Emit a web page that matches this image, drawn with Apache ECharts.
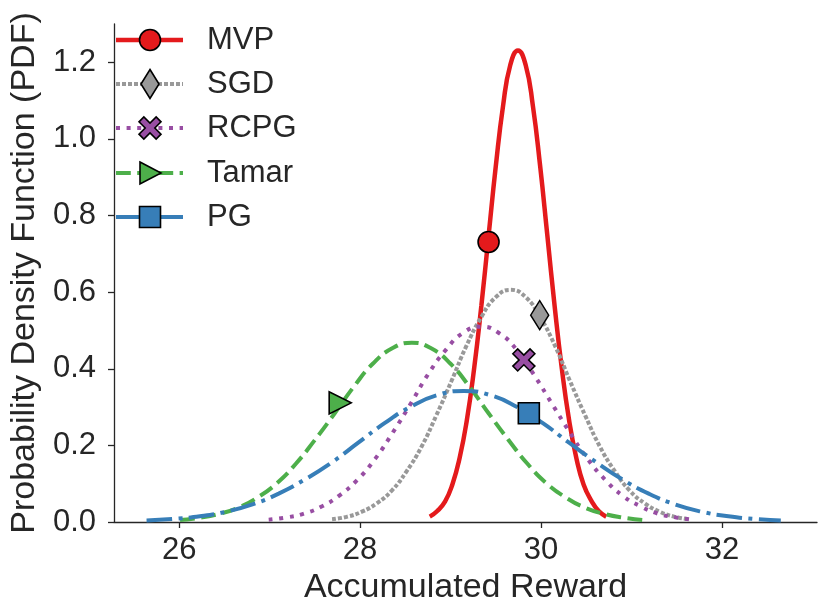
<!DOCTYPE html>
<html>
<head>
<meta charset="utf-8">
<title>PDF of accumulated reward</title>
<script src="https://cdn.jsdelivr.net/npm/echarts@6.0.0/dist/echarts.min.js"></script>
<style>
html, body { margin: 0; padding: 0; background: #fff; }
#main { width: 830px; height: 612px; }
</style>
</head>
<body>
<div id="main"></div>
<script>
// values
var mvpX = [28.77, 28.85, 28.94, 29.02, 29.10, 29.18, 29.26, 29.34, 29.42, 29.50, 29.58, 29.66, 29.745, 29.83, 29.91, 29.99, 30.07, 30.15, 30.23, 30.31, 30.39, 30.47, 30.56, 30.64, 30.72];
var mvpY = [0.014, 0.028, 0.054, 0.098, 0.167, 0.266, 0.400, 0.564, 0.747, 0.929, 1.086, 1.193, 1.231, 1.193, 1.086, 0.929, 0.747, 0.564, 0.400, 0.266, 0.167, 0.098, 0.054, 0.028, 0.014];

var sgdX = [27.69, 27.86, 28.02, 28.18, 28.35, 28.51, 28.68, 28.84, 29.01, 29.17, 29.34, 29.50, 29.665, 29.83, 29.99, 30.16, 30.32, 30.49, 30.65, 30.82, 30.98, 31.15, 31.31, 31.47, 31.64];
var sgdY = [0.007, 0.014, 0.027, 0.048, 0.082, 0.131, 0.197, 0.277, 0.368, 0.457, 0.535, 0.587, 0.606, 0.587, 0.535, 0.457, 0.368, 0.277, 0.197, 0.131, 0.082, 0.048, 0.027, 0.014, 0.007];

var rcpgX = [26.99, 27.19, 27.38, 27.58, 27.77, 27.97, 28.17, 28.36, 28.56, 28.75, 28.95, 29.14, 29.34, 29.53, 29.73, 29.92, 30.12, 30.32, 30.51, 30.71, 30.90, 31.10, 31.29, 31.49, 31.68];
var rcpgY = [0.006, 0.012, 0.022, 0.041, 0.069, 0.110, 0.166, 0.233, 0.309, 0.385, 0.450, 0.494, 0.510, 0.494, 0.450, 0.385, 0.309, 0.233, 0.166, 0.110, 0.069, 0.041, 0.022, 0.012, 0.006];

var tamarX = [26.01, 26.22, 26.44, 26.65, 26.86, 27.08, 27.29, 27.50, 27.72, 27.93, 28.14, 28.36, 28.57, 28.78, 29.00, 29.21, 29.42, 29.64, 29.85, 30.06, 30.28, 30.49, 30.70, 30.92, 31.13];
var tamarY = [0.005, 0.011, 0.021, 0.037, 0.063, 0.101, 0.152, 0.214, 0.284, 0.353, 0.413, 0.454, 0.468, 0.454, 0.413, 0.353, 0.284, 0.214, 0.152, 0.101, 0.063, 0.037, 0.021, 0.011, 0.005];

var pgX = [25.64, 25.93, 26.23, 26.52, 26.81, 27.10, 27.39, 27.69, 27.98, 28.27, 28.56, 28.85, 29.145, 29.44, 29.73, 30.02, 30.31, 30.61, 30.90, 31.19, 31.48, 31.77, 32.07, 32.36, 32.65];
var pgY = [0.004, 0.008, 0.015, 0.027, 0.046, 0.074, 0.111, 0.156, 0.207, 0.258, 0.301, 0.331, 0.342, 0.331, 0.301, 0.258, 0.207, 0.156, 0.111, 0.074, 0.046, 0.027, 0.015, 0.008, 0.004];

// one marker per curve
var markerX = [29.42, 29.985, 29.81, 27.78, 29.865];
var markerY = [0.731, 0.540, 0.423, 0.311, 0.284];

var names = ['MVP', 'SGD', 'RCPG', 'Tamar', 'PG'];
var xTicks = [26, 28, 30, 32];
var yTicks = [0, 0.2, 0.4, 0.6, 0.8, 1.0, 1.2];

var colors = ['#e41a1c', '#999999', '#984ea3', '#4daf4a', '#377eb8'];
var dashes = ['solid', [4, 2], [4, 6.6], [14.8, 6.4], [25.6, 6.4, 4, 6.4]];
var widths = [4.5, 4, 4, 4, 4];
var xPath = 'path://M0,2.2L2.2,0L5,2.8L7.8,0L10,2.2L7.2,5L10,7.8L7.8,10L5,7.2L2.2,10L0,7.8L2.8,5Z';
var symbols = ['circle', 'diamond', xPath, 'triangle', 'rect'];
var symbolSizes = [21, [18, 29], 22, 22, 21];
var symbolRotates = [0, 0, 0, -90, 0];

var font = '"Liberation Sans", Arial, Helvetica, sans-serif';
var ink = '#262626';

var curves = [[mvpX, mvpY], [sgdX, sgdY], [rcpgX, rcpgY], [tamarX, tamarY], [pgX, pgY]];

function zip(xs, ys) {
  return xs.map(function (x, i) { return [x, ys[i]]; });
}

var series = [];
curves.forEach(function (c, i) {
  series.push({
    name: names[i],
    type: 'line',
    data: zip(c[0], c[1]),
    symbol: 'none',
    smooth: 0.5,
    lineStyle: { color: colors[i], width: widths[i], type: dashes[i] },
    z: 2 + i * 2,
    silent: true
  });
  series.push({
    name: names[i] + '-marker',
    type: 'scatter',
    data: [[markerX[i], markerY[i]]],
    symbol: symbols[i],
    symbolSize: symbolSizes[i],
    symbolRotate: symbolRotates[i],
    itemStyle: { color: colors[i], borderColor: '#000', borderWidth: 1.6, opacity: 1 },
    z: 3 + i * 2,
    silent: true
  });
});

// legend drawn by hand: line sample + marker + label
var legendRows = [40, 84, 128, 173, 217];
var graphics = [];
legendRows.forEach(function (y, i) {
  var cx = 150;
  graphics.push({
    type: 'line',
    shape: { x1: 116, y1: y, x2: 183, y2: y },
    style: { stroke: colors[i], lineWidth: widths[i], lineDash: dashes[i] === 'solid' ? null : dashes[i] },
    z: 10
  });
  var mk = { fill: colors[i], stroke: '#000', lineWidth: 1.6 };
  if (i === 0) {
    graphics.push({ type: 'circle', shape: { cx: cx, cy: y, r: 10.5 }, style: mk, z: 11 });
  } else if (i === 1) {
    graphics.push({ type: 'polygon', shape: { points: [[cx, y - 14.5], [cx + 9, y], [cx, y + 14.5], [cx - 9, y]] }, style: mk, z: 11 });
  } else if (i === 2) {
    var s = 2.2, ox = cx - 11, oy = y - 11;
    var pts = [[0, 2.2], [2.2, 0], [5, 2.8], [7.8, 0], [10, 2.2], [7.2, 5], [10, 7.8], [7.8, 10], [5, 7.2], [2.2, 10], [0, 7.8], [2.8, 5]];
    graphics.push({ type: 'polygon', shape: { points: pts.map(function (p) { return [ox + p[0] * s, oy + p[1] * s]; }) }, style: mk, z: 11 });
  } else if (i === 3) {
    graphics.push({ type: 'polygon', shape: { points: [[cx - 10, y - 11], [cx + 11, y], [cx - 10, y + 11]] }, style: mk, z: 11 });
  } else {
    graphics.push({ type: 'rect', shape: { x: cx - 10.5, y: y - 10.5, width: 21, height: 21 }, style: mk, z: 11 });
  }
  graphics.push({
    type: 'text',
    x: 207,
    y: y,
    style: { text: names[i], fontSize: 31, fontFamily: font, fill: ink, verticalAlign: 'middle' },
    z: 11
  });
});

var chart = echarts.init(document.getElementById('main'), null, { renderer: 'canvas' });
chart.setOption({
  animation: false,
  backgroundColor: '#ffffff',
  grid: { left: 105, right: 13, top: 24, bottom: 90, containLabel: false },
  xAxis: {
    type: 'value',
    min: 25.28,
    max: 33.05,
    name: 'Accumulated Reward',
    nameLocation: 'middle',
    nameGap: 45,
    nameTextStyle: { fontSize: 34, color: ink, fontFamily: font },
    axisLine: { show: true, onZero: false, lineStyle: { color: ink, width: 1.3 } },
    axisTick: { show: true, length: 6, customValues: xTicks, lineStyle: { color: ink, width: 1.3 } },
    axisLabel: { customValues: xTicks, fontSize: 31, color: ink, fontFamily: font, margin: 13 },
    splitLine: { show: false }
  },
  yAxis: {
    type: 'value',
    min: 0,
    max: 1.3,
    name: 'Probability Density Function (PDF)',
    nameLocation: 'middle',
    nameGap: 66,
    nameRotate: 90,
    nameTextStyle: { fontSize: 34, color: ink, fontFamily: font },
    axisLine: { show: true, onZero: false, lineStyle: { color: ink, width: 1.3 } },
    axisTick: { show: true, length: 6, customValues: yTicks, lineStyle: { color: ink, width: 1.3 } },
    axisLabel: {
      customValues: yTicks, fontSize: 31, color: ink, fontFamily: font, margin: 18,
      formatter: function (v) { return v.toFixed(1); }
    },
    splitLine: { show: false }
  },
  series: series,
  graphic: graphics
});
</script>
</body>
</html>
